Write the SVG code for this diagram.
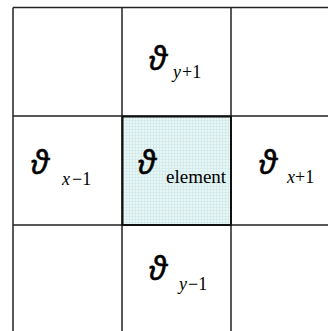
<svg xmlns="http://www.w3.org/2000/svg" width="328" height="331" viewBox="0 0 328 331">
<style>
.g{stroke:#222;stroke-width:1.5;fill:none}
.sym{font-family:"Open Sans","DejaVu Serif",serif;font-style:italic;font-size:32px;fill:#000;stroke:#000;stroke-width:0.6}
.sub{font-family:"Liberation Serif","DejaVu Serif",serif;font-size:18px;fill:#000}
.it{font-style:italic}
.el{font-family:"Liberation Serif","DejaVu Serif",serif;font-size:19px;fill:#000}
</style>
<defs>
<pattern id="grid" width="3" height="3" patternUnits="userSpaceOnUse">
<rect width="3" height="3" fill="#e9f6f6"/>
<path d="M0 0.5H3M0.5 0V3" stroke="#cbe6e6" stroke-width="0.6"/>
</pattern>
</defs>
<rect width="328" height="331" fill="#fff"/>
<g id="connectors">
<path class="g" d="M13 7.5H328M13 116H328M13 225H328M13 7.5V331M122 7.5V331M231 7.5V331"/>
</g>
<g id="element">
<rect x="122.5" y="116.5" width="108.5" height="108.5" fill="url(#grid)" stroke="#111" stroke-width="2"/>
<text class="sym" x="138" y="174">ϑ</text>
<text class="el" x="166" y="183">element</text>
</g>
<g id="y_plus_1">
<text class="sym" x="149" y="70">ϑ</text>
<text class="sub" x="173" y="78"><tspan class="it">y</tspan><tspan dx="1">+1</tspan></text>
</g>
<g id="x_minus_1">
<text class="sym" x="31" y="174">ϑ</text>
<text class="sub" x="62" y="185"><tspan class="it">x</tspan><tspan dx="2">−1</tspan></text>
</g>
<g id="x_plus_1">
<text class="sym" x="259" y="174">ϑ</text>
<text class="sub" x="287" y="183"><tspan class="it">x</tspan><tspan>+1</tspan></text>
</g>
<g id="y_minus_1">
<text class="sym" x="149" y="280">ϑ</text>
<text class="sub" x="179" y="290"><tspan class="it">y</tspan><tspan dx="1">−1</tspan></text>
</g>
</svg>
